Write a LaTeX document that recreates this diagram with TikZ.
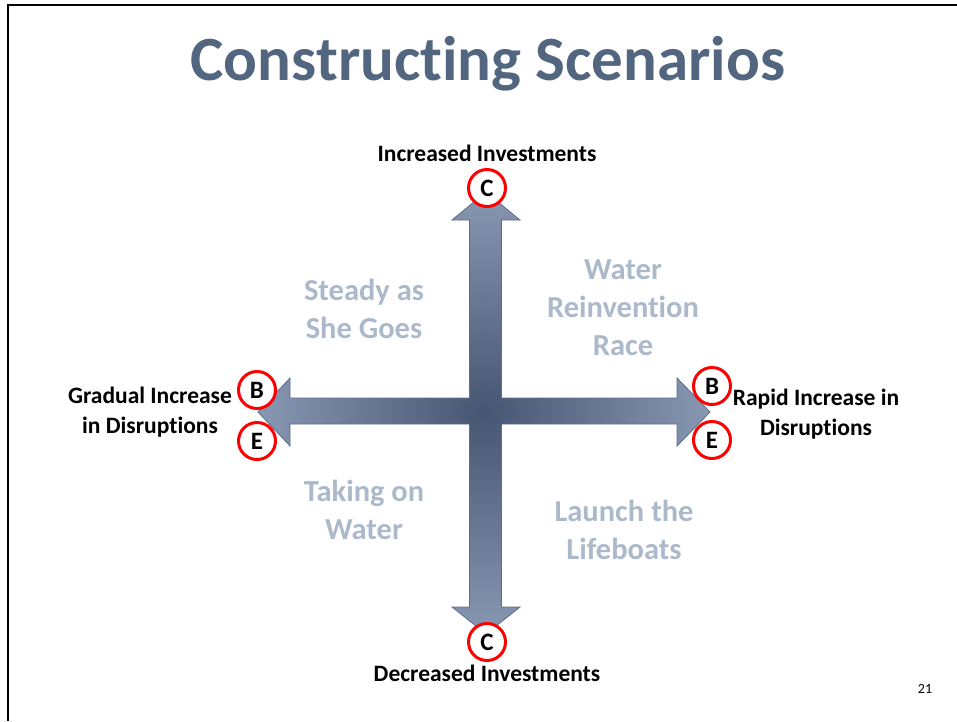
\documentclass[tikz,border=0pt]{standalone}
\usepackage{fontspec}
\setmainfont{Carlito}[Ligatures=NoCommon]
\definecolor{titleblue}{RGB}{83,102,128}
\definecolor{quadgray}{RGB}{172,185,202}
\definecolor{arrowdark}{RGB}{70,86,114}
\definecolor{arrowlight}{RGB}{136,151,178}
\definecolor{arrowedge}{RGB}{95,110,135}
\tikzset{
  x=1pt, y=-1pt,
  lbl/.style={font=\fontsize{23.5}{30}\selectfont\bfseries, align=center, inner sep=0pt},
  quad/.style={font=\fontsize{30.5}{38}\selectfont\bfseries, align=center, text=quadgray, inner sep=0pt},
  mark circle/.style={circle, draw=red, line width=3pt, fill=white, minimum size=37pt, inner sep=0pt,
     font=\fontsize{25}{26}\selectfont\bfseries},
}
\begin{document}
\begin{tikzpicture}
\useasboundingbox (0,0) rectangle (957,721);
% frame
\draw[line width=2.5pt] (8,721) -- (8,5) -- (957,5);
% title
\node[font=\fontsize{63}{70}\selectfont\bfseries, text=titleblue, anchor=base, inner sep=0pt] (title) at (488,80) {Constructing Scenarios};
% cross arrows
\shade[inner color=arrowdark, outer color=arrowlight, draw=arrowedge, line width=0.8pt]
  (486,192) -- (520,220) -- (501.5,220) -- (501.5,398) -- (677,398) -- (677,378) -- (710,412)
  -- (677,446) -- (677,424) -- (501.5,424) -- (501.5,607) -- (520,607) -- (486,634)
  -- (452,607) -- (469.5,607) -- (469.5,424) -- (290,424) -- (290,446) -- (258,412)
  -- (290,378) -- (290,398) -- (469.5,398) -- (469.5,220) -- (452,220) -- cycle;
% axis labels
\node[lbl, anchor=base] (inc) at (487,161) {Increased Investments};
\node[lbl, anchor=base] (dec) at (487,681) {Decreased Investments};
\node[lbl] (grad) at (150,412) {Gradual Increase\\in Disruptions};
\node[lbl] (rapid) at (816,414) {Rapid Increase in\\Disruptions};
% circles
\node[mark circle] (ctop) at (487,188) {C};
\node[mark circle] (cbot) at (487,642) {C};
\node[mark circle] (bl) at (257,390) {B};
\node[mark circle] (el) at (257,441) {E};
\node[mark circle] (br) at (712,386) {B};
\node[mark circle] (er) at (712,440) {E};
% quadrant labels
\node[quad] (q1) at (364,309) {Steady as\\She Goes};
\node[quad] (q2) at (623,308) {Water\\Reinvention\\Race};
\node[quad] (q3) at (364,510) {Taking on\\Water};
\node[quad] (q4) at (624,530) {Launch the\\Lifeboats};
% page number
\node[font=\fontsize{14}{16}\selectfont, anchor=base, inner sep=0pt] (pg) at (925,693) {21};
\end{tikzpicture}
\end{document}
